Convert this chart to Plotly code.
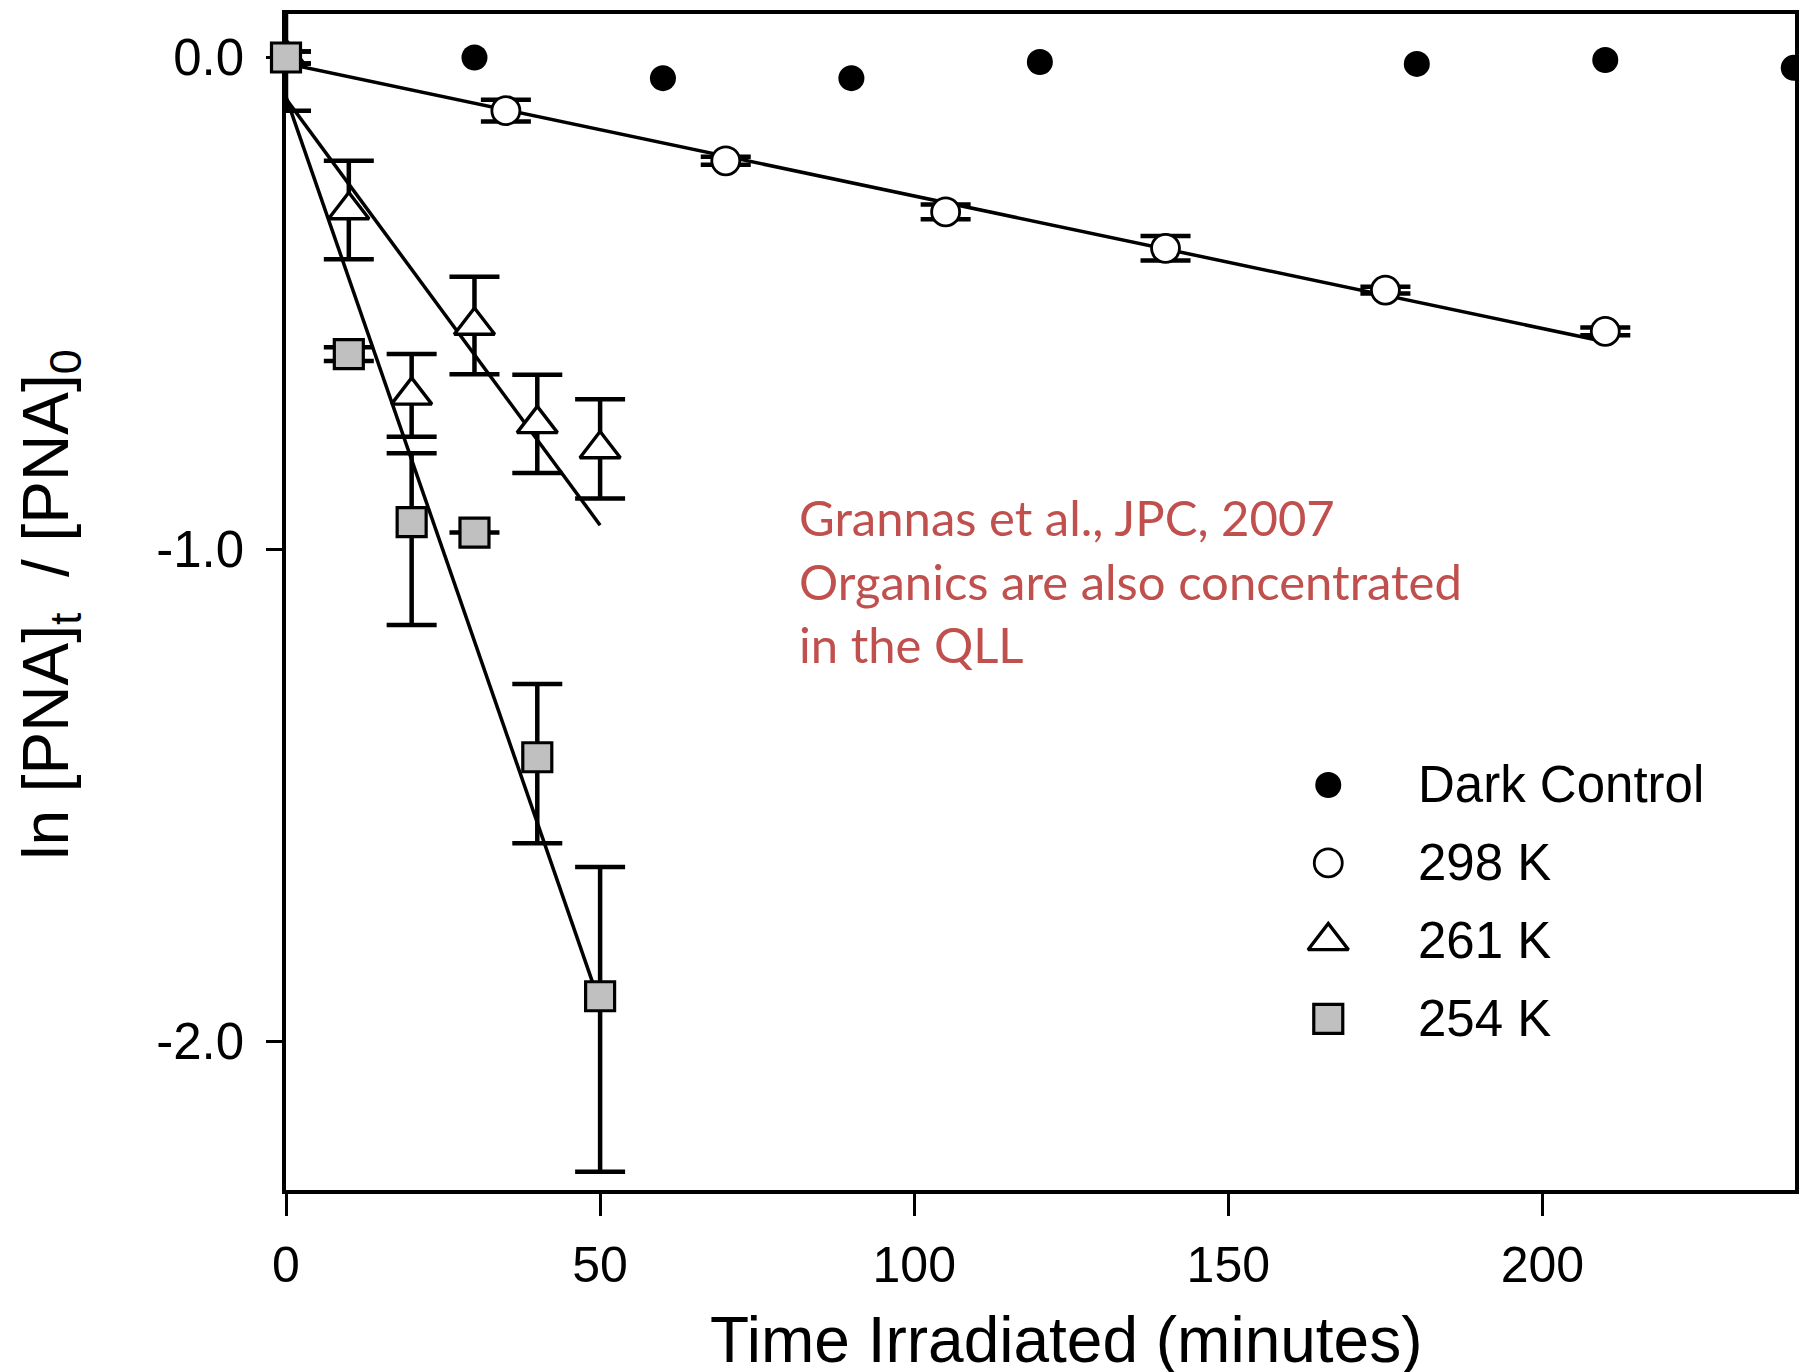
import plotly.graph_objects as go

# ---- measured data: ln([PNA]t/[PNA]0) vs irradiation time (minutes) ----
t_dark = [0, 30, 60, 90, 120, 180, 210, 240]
v_dark = [0.0, 0.0, -0.042, -0.042, -0.009, -0.013, -0.005, -0.021]

t_298 = [0, 35, 70, 105, 140, 175, 210]
v_298 = [0.0, -0.108, -0.21, -0.314, -0.388, -0.473, -0.557]
e_298 = [0.012, 0.022, 0.008, 0.015, 0.025, 0.007, 0.008]

t_261 = [0, 10, 20, 30, 40, 50]
v_261 = [0.0, -0.31, -0.687, -0.545, -0.745, -0.796]
e_261 = [0.108, 0.10, 0.084, 0.099, 0.10, 0.101]

t_254 = [0, 10, 20, 30, 40, 50]
v_254 = [0.0, -0.603, -0.945, -0.966, -1.423, -1.909]
e_254_plus = [0.012, 0.014, 0.140, None, 0.149, 0.263]
e_254_minus = [0.012, 0.014, 0.209, None, 0.175, 0.357]

# linear fits (end points)
fit_298_t = [0, 210]
fit_298_v = [-0.012, -0.578]
fit_261_t = [0, 50]
fit_261_v = [-0.084, -0.951]
fit_254_t = [0, 50]
fit_254_v = [-0.080, -1.925]

x_ticks = [0, 50, 100, 150, 200]
y_ticks = [0.0, -1.0, -2.0]
y_tick_text = ["0.0", "-1.0", "-2.0"]

series_names = ["Dark Control", "298 K", "261 K", "254 K"]

note_lines = ["Grannas et al., JPC, 2007",
              "Organics are also concentrated",
              "in the QLL"]

# ---- styling ----
FONT = "Liberation Sans, Arial, Helvetica, sans-serif"
BLACK = "#000000"
GREY = "#c0c0c0"
NOTE_RED = "#C0504D"

marker_dark = dict(symbol="circle", size=26, color=BLACK)
marker_298 = dict(symbol="circle", size=28, color="white", line=dict(color=BLACK, width=2.8))
marker_261 = dict(symbol="triangle-up", size=35, color="white", line=dict(color=BLACK, width=3.4))
marker_254 = dict(symbol="square", size=29, color=GREY, line=dict(color=BLACK, width=3.2))
markers = [marker_dark, marker_298, marker_261, marker_254]

err_style = dict(color=BLACK, thickness=4.5, width=25)
fit_line = dict(color=BLACK, width=3.5)

fig = go.Figure()

# fitted lines
for ft, fv in [(fit_298_t, fit_298_v), (fit_261_t, fit_261_v), (fit_254_t, fit_254_v)]:
    fig.add_trace(go.Scatter(x=ft, y=fv, mode="lines", line=fit_line,
                             showlegend=False, hoverinfo="skip"))

# data series
fig.add_trace(go.Scatter(x=t_dark, y=v_dark, mode="markers", marker=marker_dark,
                         name=series_names[0], showlegend=False, cliponaxis=True))
fig.add_trace(go.Scatter(x=t_298, y=v_298, mode="markers", marker=marker_298,
                         error_y=dict(type="data", array=e_298, **err_style),
                         name=series_names[1], showlegend=False, cliponaxis=False))
fig.add_trace(go.Scatter(x=t_261, y=v_261, mode="markers", marker=marker_261,
                         error_y=dict(type="data", array=e_261, **err_style),
                         name=series_names[2], showlegend=False, cliponaxis=True))
fig.add_trace(go.Scatter(x=t_254, y=v_254, mode="markers", marker=marker_254,
                         error_y=dict(type="data", symmetric=False, array=e_254_plus,
                                      arrayminus=e_254_minus, **err_style),
                         name=series_names[3], showlegend=False, cliponaxis=False))

# key: symbols on an overlay axis spanning the plot area, labels as annotations
key_x = 0.6907
key_text_x = 0.7488
key_top = 0.3444
key_gap = 0.0663
for i, (name, mk) in enumerate(zip(series_names, markers)):
    ky = key_top - i * key_gap
    fig.add_trace(go.Scatter(x=[key_x], y=[ky], mode="markers", marker=mk,
                             xaxis="x2", yaxis="y2", showlegend=False,
                             cliponaxis=False, hoverinfo="skip"))
    fig.add_annotation(x=key_text_x, y=ky, xref="paper", yref="paper",
                       text=name, showarrow=False, xanchor="left", yanchor="middle",
                       font=dict(family=FONT, size=51, color=BLACK))

# citation note
fig.add_annotation(x=81.4, y=-1.063, xref="x", yref="y",
                   text="<br>".join(note_lines), showarrow=False,
                   xanchor="left", yanchor="middle", align="left",
                   font=dict(family="Lato, Carlito, Calibri, sans-serif", size=49, color=NOTE_RED))

# axis titles
fig.add_annotation(x=0.5175, y=-0.1276, xref="paper", yref="paper",
                   text="Time Irradiated (minutes)", showarrow=False,
                   xanchor="center", yanchor="middle",
                   font=dict(family=FONT, size=64, color=BLACK))
fig.add_annotation(x=-0.1565, y=0.4975, xref="paper", yref="paper",
                   text=("ln [PNA]<sub style=\"font-size:50px\">t</sub>"
                         "\u00a0\u00a0/ [PNA]<sub style=\"font-size:57px\">0</sub>"),
                   textangle=-90, showarrow=False,
                   xanchor="center", yanchor="middle",
                   font=dict(family=FONT, size=64, color=BLACK))

axis_common = dict(showline=True, linecolor=BLACK, linewidth=3.5, mirror=True,
                   showgrid=False, zeroline=False, ticks="outside",
                   tickcolor=BLACK, tickwidth=3, layer="below traces")

fig.update_layout(
    width=1802, height=1372,
    margin=dict(l=286, r=3, t=14, b=182, pad=0),
    paper_bgcolor="white", plot_bgcolor="white",
    showlegend=False,
    xaxis=dict(range=[0, 240.2], tickvals=x_ticks, ticklen=22,
               ticklabelstandoff=6,
               tickfont=dict(family=FONT, size=50, color=BLACK), **axis_common),
    yaxis=dict(range=[-2.303, 0.0885], tickvals=y_ticks, ticktext=y_tick_text,
               ticklen=16, ticklabelstandoff=12,
               tickfont=dict(family=FONT, size=51, color=BLACK), **axis_common),
    xaxis2=dict(overlaying="x", range=[0, 1], visible=False, anchor="y2"),
    yaxis2=dict(overlaying="y", range=[0, 1], visible=False, anchor="x2"),
)

fig.write_html("out.html")
